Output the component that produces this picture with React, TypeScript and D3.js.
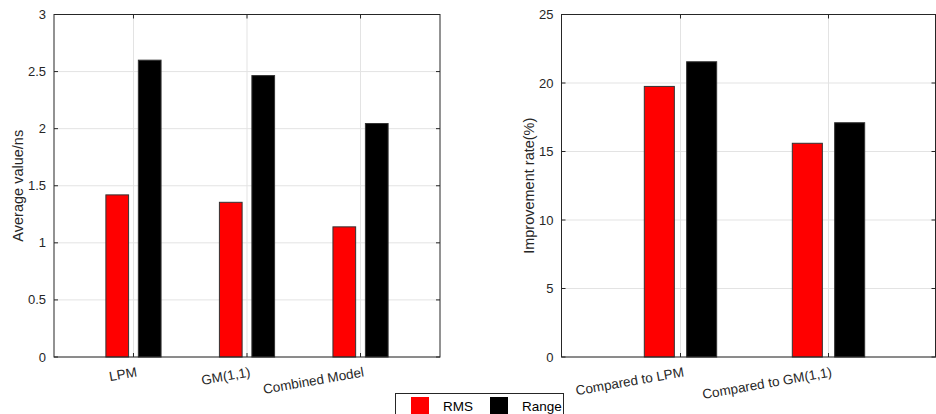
import React, { useEffect, useRef } from "react";
import * as d3 from "d3";

// left panel
const models = ["LPM", "GM(1,1)", "Combined Model"];
const rmsAvg = [1.42, 1.355, 1.14];
const rangeAvg = [2.6, 2.465, 2.045];
const leftTicks = [0, 0.5, 1, 1.5, 2, 2.5, 3];

// right panel
const comparisons = ["Compared to LPM", "Compared to GM(1,1)"];
const rmsRate = [19.75, 15.6];
const rangeRate = [21.55, 17.1];
const rightTicks = [0, 5, 10, 15, 20, 25];

const seriesNames = ["RMS", "Range"];
const seriesColors = ["#ff0000", "#000000"];

const FONT = "'Liberation Sans', Arial, sans-serif";

type Panel = {
  left: number;
  right: number;
  xDomain: [number, number];
  yMax: number;
  ticks: number[];
  cats: string[];
  series: number[][];
  label: string;
  labelX: number;
  barW: number;
  offset: number;
};

function drawPanel(svg: d3.Selection<SVGSVGElement, unknown, null, undefined>, p: Panel) {
  const top = 14.5;
  const bottom = 357;
  const x = d3.scaleLinear().domain(p.xDomain).range([p.left, p.right]);
  const y = d3.scaleLinear().domain([0, p.yMax]).range([bottom, top]);
  const g = svg.append("g");

  // grid
  g.selectAll(".gy")
    .data(p.ticks)
    .join("line")
    .attr("x1", p.left)
    .attr("x2", p.right)
    .attr("y1", (d) => y(d))
    .attr("y2", (d) => y(d))
    .attr("stroke", "#e3e3e3");
  g.selectAll(".gx")
    .data(p.cats)
    .join("line")
    .attr("x1", (d, i) => x(i + 1))
    .attr("x2", (d, i) => x(i + 1))
    .attr("y1", top)
    .attr("y2", bottom)
    .attr("stroke", "#e3e3e3");

  // bars
  const bw = x(p.barW) - x(0);
  p.series.forEach((vals, s) => {
    const off = s === 0 ? -p.offset : p.offset;
    g.selectAll(".b" + s)
      .data(vals)
      .join("rect")
      .attr("x", (d, i) => x(i + 1 + off) - bw / 2)
      .attr("y", (d) => y(d))
      .attr("width", bw)
      .attr("height", (d) => y(0) - y(d))
      .attr("fill", seriesColors[s])
      .attr("stroke", "#333")
      .attr("stroke-width", 1);
  });

  // frame
  g.append("rect")
    .attr("x", p.left)
    .attr("y", top)
    .attr("width", p.right - p.left)
    .attr("height", bottom - top)
    .attr("fill", "none")
    .attr("stroke", "#262626");

  // tick marks
  p.ticks.forEach((t) => {
    g.append("line").attr("x1", p.left).attr("x2", p.left + 4).attr("y1", y(t)).attr("y2", y(t)).attr("stroke", "#262626");
    g.append("line").attr("x1", p.right).attr("x2", p.right - 4).attr("y1", y(t)).attr("y2", y(t)).attr("stroke", "#262626");
  });
  p.cats.forEach((c, i) => {
    g.append("line").attr("x1", x(i + 1)).attr("x2", x(i + 1)).attr("y1", bottom).attr("y2", bottom - 4).attr("stroke", "#262626");
    g.append("line").attr("x1", x(i + 1)).attr("x2", x(i + 1)).attr("y1", top).attr("y2", top + 4).attr("stroke", "#262626");
  });

  // y tick labels
  g.selectAll(".yl")
    .data(p.ticks)
    .join("text")
    .attr("x", p.left - 8)
    .attr("y", (d) => y(d))
    .attr("dy", "0.35em")
    .attr("text-anchor", "end")
    .attr("font-size", 13)
    .attr("fill", "#262626")
    .text((d) => String(d));

  // x tick labels (rotated)
  g.selectAll(".xl")
    .data(p.cats)
    .join("text")
    .attr("transform", (d, i) => `translate(${x(i + 1) + 2},${bottom + 8}) rotate(-10)`)
    .attr("dy", "0.85em")
    .attr("text-anchor", "end")
    .attr("font-size", 13.5)
    .attr("fill", "#262626")
    .text((d) => d);

  // y label
  g.append("text")
    .attr("transform", `translate(${p.labelX},${(top + bottom) / 2}) rotate(-90)`)
    .attr("text-anchor", "middle")
    .attr("font-size", 14.5)
    .attr("fill", "#262626")
    .text(p.label);
}

export default function App() {
  const ref = useRef<SVGSVGElement>(null);

  useEffect(() => {
    const svg = d3.select(ref.current!);
    svg.selectAll("*").remove();

    drawPanel(svg, {
      left: 54,
      right: 440,
      xDomain: [0.3, 3.7],
      yMax: 3,
      ticks: leftTicks,
      cats: models,
      series: [rmsAvg, rangeAvg],
      label: "Average value/ns",
      labelX: 23,
      barW: 0.2,
      offset: 0.143,
    });

    drawPanel(svg, {
      left: 561.5,
      right: 935.5,
      xDomain: [0.196, 2.723],
      yMax: 25,
      ticks: rightTicks,
      cats: comparisons,
      series: [rmsRate, rangeRate],
      label: "Improvement rate(%)",
      labelX: 534,
      barW: 0.203,
      offset: 0.143,
    });

    // legend
    const lg = svg.append("g");
    lg.append("rect")
      .attr("x", 395.5)
      .attr("y", 393.5)
      .attr("width", 168)
      .attr("height", 30)
      .attr("fill", "#fff")
      .attr("stroke", "#262626");
    const items = [
      { sx: 411, tx: 443 },
      { sx: 490, tx: 522 },
    ];
    seriesNames.forEach((n, i) => {
      lg.append("rect")
        .attr("x", items[i].sx)
        .attr("y", 397)
        .attr("width", 18)
        .attr("height", 18)
        .attr("fill", seriesColors[i]);
      lg.append("text")
        .attr("x", items[i].tx)
        .attr("y", 411)
        .attr("font-size", 13.5)
        .attr("fill", "#000")
        .text(n);
    });
  }, []);

  return (
    <svg
      ref={ref}
      width={936}
      height={414}
      style={{ position: "absolute", left: 0, top: 0, fontFamily: FONT, background: "#fff" }}
    />
  );
}
